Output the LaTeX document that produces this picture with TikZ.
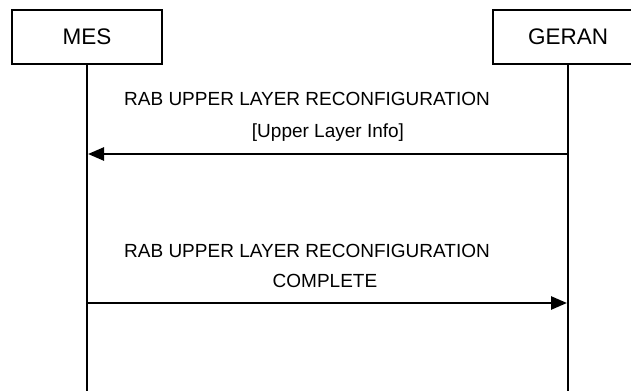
\documentclass[tikz,border=0pt]{standalone}
\usepackage{fontspec}
\setmainfont{Liberation Sans}
\usetikzlibrary{arrows.meta}
\tikzset{
  entity/.style={draw,line width=1.2pt,minimum width=150pt,minimum height=54pt,font=\fontsize{22.5}{26}\selectfont},
  lifeline/.style={line width=1.8pt},
  msg/.style={line width=2.6pt,-{Triangle[length=16pt,width=13pt]}},
  msgtext/.style={font=\fontsize{19}{22}\selectfont,anchor=base}
}
\begin{document}
\begin{tikzpicture}[x=1pt,y=1pt]
\useasboundingbox (0,0) rectangle (631,391);

% entities
\node[entity] (mes) at (87,354) {MES};
\node[entity] (geran) at (568,354) {GERAN};
\coordinate (mesend) at (87,0);
\coordinate (geranend) at (568,0);
\draw[lifeline] (mes.south) -- (mesend);
\draw[lifeline] (geran.south) -- (geranend);

% first message
\coordinate (g1) at (568,237);
\coordinate (m1) at (88,237);
\draw[msg] (g1) -- (m1);
\node[msgtext] (t1a) at (307,285) {RAB UPPER LAYER RECONFIGURATION};
\node[msgtext] (t1b) at (328,253) {[Upper Layer Info]};

% second message
\coordinate (m2) at (88,88);
\coordinate (g2) at (567,88);
\draw[msg] (m2) -- (g2);
\node[msgtext] (t2a) at (307,134) {RAB UPPER LAYER RECONFIGURATION};
\node[msgtext] (t2b) at (325,104) {COMPLETE};
\end{tikzpicture}
\end{document}
